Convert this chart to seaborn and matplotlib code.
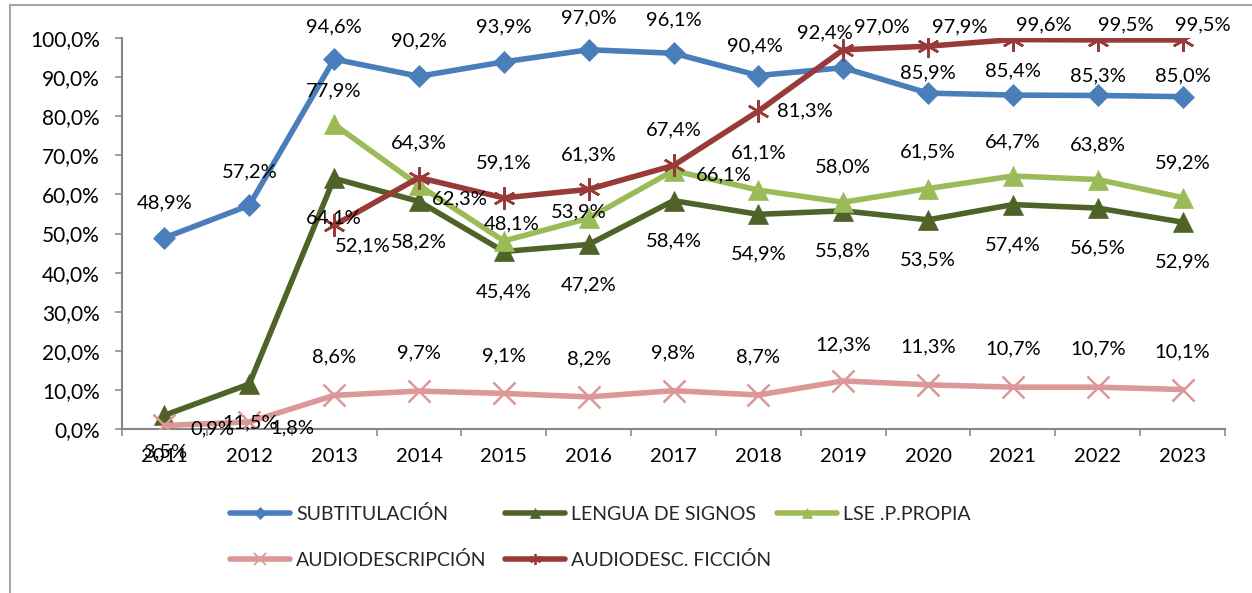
import numpy as np
import pandas as pd
import matplotlib
matplotlib.use("Agg")
import matplotlib.pyplot as plt
from matplotlib.lines import Line2D
from matplotlib.patches import Rectangle
import seaborn as sns

# ---------------- data ----------------
years = ["2011", "2012", "2013", "2014", "2015", "2016", "2017",
         "2018", "2019", "2020", "2021", "2022", "2023"]
subtitulacion = [48.9, 57.2, 94.6, 90.2, 93.9, 97.0, 96.1, 90.4, 92.4, 85.9, 85.4, 85.3, 85.0]
lengua_signos = [3.5, 11.5, 64.1, 58.2, 45.4, 47.2, 58.4, 54.9, 55.8, 53.5, 57.4, 56.5, 52.9]
lse_propia = [np.nan, np.nan, 77.9, 62.3, 48.1, 53.9, 66.1, 61.1, 58.0, 61.5, 64.7, 63.8, 59.2]
audiodescripcion = [0.9, 1.8, 8.6, 9.7, 9.1, 8.2, 9.8, 8.7, 12.3, 11.3, 10.7, 10.7, 10.1]
audiodesc_ficcion = [np.nan, np.nan, 52.1, 64.3, 59.1, 61.3, 67.4, 81.3, 97.0, 97.9, 99.6, 99.5, 99.5]
series_names = ["SUBTITULACIÓN", "LENGUA DE SIGNOS", "LSE .P.PROPIA",
                "AUDIODESCRIPCIÓN", "AUDIODESC. FICCIÓN"]
y_ticks = [0, 10, 20, 30, 40, 50, 60, 70, 80, 90, 100]

series_values = [subtitulacion, lengua_signos, lse_propia, audiodescripcion, audiodesc_ficcion]

rows = []
for name, vals in zip(series_names, series_values):
    for i, (yr, v) in enumerate(zip(years, vals)):
        if not np.isnan(v):
            rows.append({"serie": name, "pos": i, "year": yr, "value": v})
df = pd.DataFrame(rows)

# ---------------- style ----------------
colors = {"SUBTITULACIÓN": "#4A7EBB", "LENGUA DE SIGNOS": "#4F6228",
          "LSE .P.PROPIA": "#9BBB59", "AUDIODESCRIPCIÓN": "#DB9896",
          "AUDIODESC. FICCIÓN": "#973A38"}
markers = {"SUBTITULACIÓN": "D", "LENGUA DE SIGNOS": "^", "LSE .P.PROPIA": "^",
           "AUDIODESCRIPCIÓN": "x", "AUDIODESC. FICCIÓN": (6, 2, 0)}
msizes = {"SUBTITULACIÓN": 11, "LENGUA DE SIGNOS": 15, "LSE .P.PROPIA": 15,
          "AUDIODESCRIPCIÓN": 16, "AUDIODESC. FICCIÓN": 16}
leg_msizes = {"SUBTITULACIÓN": 6, "LENGUA DE SIGNOS": 7, "LSE .P.PROPIA": 7,
              "AUDIODESCRIPCIÓN": 8, "AUDIODESC. FICCIÓN": 8}

# label offsets in pixels (dx right, dy down) for each point
lab_off = {
    "SUBTITULACIÓN": [(0, -35), (0, -33), (0, -32), (0, -35), (0, -35), (0, -32), (0, -33),
                      (-3, -30), (-18, -35), (0, -20), (0, -24), (0, -20), (0, -21)],
    "LENGUA DE SIGNOS": [(1, 37), (1, 39)] + [(0, 40)] * 11,
    "LSE .P.PROPIA": [None, None, (0, -34), (41, 13), (8, -17), (-10, -6), (50, 4),
                      (0, -37), (0, -35), (0, -37), (0, -34), (0, -35), (0, -35)],
    "AUDIODESCRIPCIÓN": [(48, 3), (43, 6)] + [(0, -38)] * 6 + [(0, -36)] + [(0, -38)] * 4,
    "AUDIODESC. FICCIÓN": [None, None, (29, 21), (0, -35), (0, -35), (0, -34), (0, -36),
                           (47, 0), (39, -23), (32, -19), (31, -15), (28, -15), (20, -15)],
}

sns.set_theme(style="white")
plt.rcParams["font.family"] = ["Lato", "DejaVu Sans"]

W, H, DPI = 1252, 593, 100
fig = plt.figure(figsize=(W / DPI, H / DPI), dpi=DPI)
fig.patch.set_facecolor("white")
ax = fig.add_axes([122 / W, 1 - 429 / H, (1225 - 122) / W, (429 - 38) / H])
ax.set_facecolor("white")

for k, name in enumerate(series_names):
    sub = df[df["serie"] == name]
    mk = markers[name]
    is_line_marker = name in ("AUDIODESCRIPCIÓN", "AUDIODESC. FICCIÓN")
    sns.lineplot(data=sub, x="pos", y="value", ax=ax, color=colors[name], lw=4,
                 marker=mk, markersize=msizes[name],
                 markeredgecolor=colors[name],
                 markerfacecolor=colors[name],
                 markeredgewidth=1.8 if is_line_marker else 0.5,
                 zorder=3 + k, legend=False, errorbar=None, sort=False)

for name, vals in zip(series_names, series_values):
    for i, v in enumerate(vals):
        if np.isnan(v):
            continue
        dx, dy = lab_off[name][i]
        ax.annotate(f"{v:.1f}%".replace(".", ","), xy=(i, v), xytext=(dx, -dy),
                    textcoords="offset pixels", ha="center", va="center",
                    fontsize=14.5, color="black", zorder=20, annotation_clip=False)

ax.set_xlim(-0.5, len(years) - 0.5)
ax.set_ylim(0, 100)
ax.set_xticks(range(len(years)))
ax.set_xticklabels(years)
ax.set_xticks(np.arange(-0.5, len(years), 1.0), minor=True)
ax.set_yticks(y_ticks)
ax.set_yticklabels([f"{t:.1f}%".replace(".", ",") for t in y_ticks])
ax.set_xlabel("")
ax.set_ylabel("")

axis_gray = "#868686"
for s in ["top", "right"]:
    ax.spines[s].set_visible(False)
for s in ["left", "bottom"]:
    ax.spines[s].set_color(axis_gray)
    ax.spines[s].set_linewidth(1.5)
ax.tick_params(axis="x", which="major", length=0, pad=14, labelsize=14.5, labelcolor="black")
ax.tick_params(axis="x", which="minor", length=5, width=1.1, color=axis_gray, direction="out", bottom=True)
ax.tick_params(axis="y", which="major", length=5, width=1.1, color=axis_gray, direction="out",
               left=True, pad=11, labelsize=15, labelcolor="black")
ax.grid(False)

# legend: one entry per anchor position
leg_pos = {"SUBTITULACIÓN": (230, 514), "LENGUA DE SIGNOS": (505, 514),
           "LSE .P.PROPIA": (777, 514), "AUDIODESCRIPCIÓN": (230, 560),
           "AUDIODESC. FICCIÓN": (505, 560)}
for name in series_names:
    is_line_marker = name in ("AUDIODESCRIPCIÓN", "AUDIODESC. FICCIÓN")
    h = Line2D([], [], color=colors[name], lw=4, marker=markers[name],
               markersize=leg_msizes[name], markerfacecolor=colors[name],
               markeredgecolor=colors[name], markeredgewidth=1.3 if is_line_marker else 0.5)
    px, py = leg_pos[name]
    fig.legend([h], [name], loc="center left", bbox_to_anchor=(px / W, 1 - py / H),
               bbox_transform=fig.transFigure, frameon=False, borderpad=0,
               borderaxespad=0, handlelength=3.1, handletextpad=0.3, fontsize=14)

# outer chart border (partially cut off)
fig.patches.append(Rectangle((10 / W, -0.2), 1.5, 1.2 - 5 / H, transform=fig.transFigure,
                             fill=False, edgecolor="#A6A6A6", lw=1.5, zorder=0))

fig.savefig("out.png", dpi=DPI, facecolor="white")
